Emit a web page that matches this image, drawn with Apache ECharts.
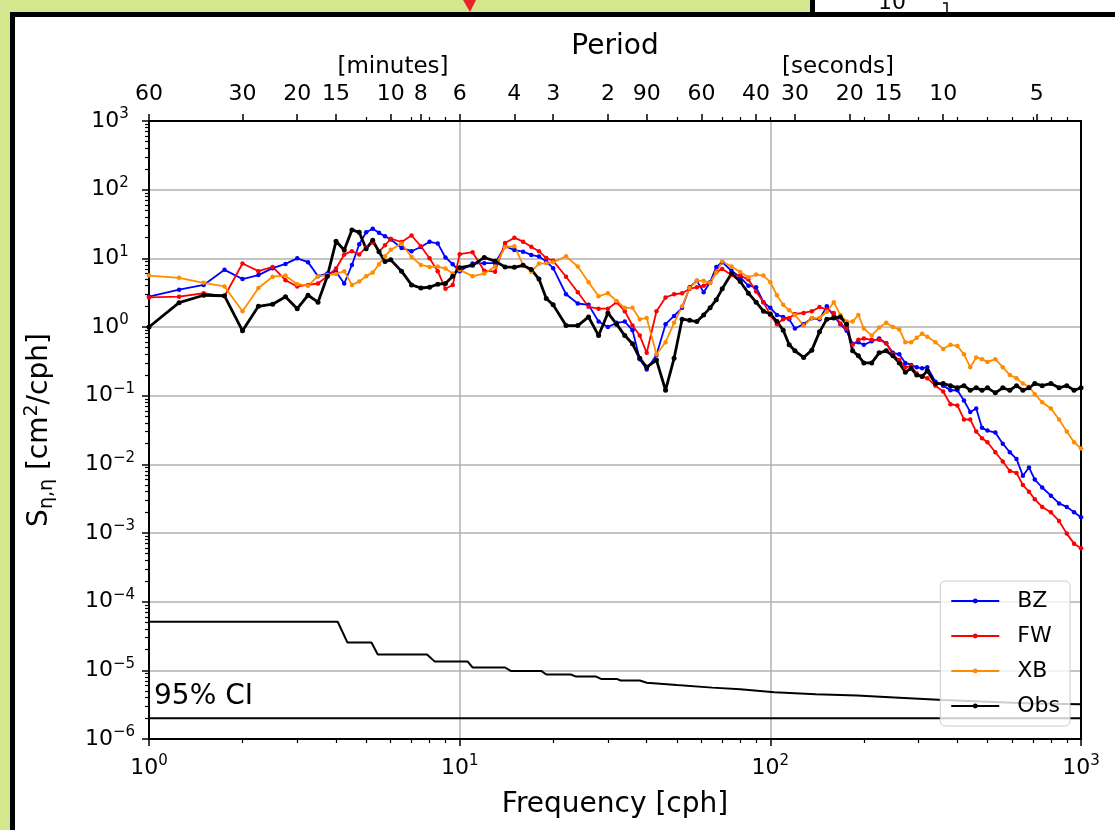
<!DOCTYPE html>
<html><head><meta charset="utf-8">
<script src="https://cdn.jsdelivr.net/npm/echarts@6/dist/echarts.min.js"></script>
<style>html,body{margin:0;padding:0;background:#d4e78f;}#c{width:1115px;height:830px;}</style>
</head><body><div id="c"></div>
<script>
// ---------------- DATA ----------------
const freq = [1,1.25,1.5,1.75,2,2.25,2.5,2.75,3,3.25,3.5,3.75,4,4.25,4.5,4.75,5,5.25,5.5,5.75,6,
  6.5,7,7.5,8,8.5,9,9.5,10,
  11,12,13,14,15,16,17,18,19,20,
  22,24,26,28,30,32,34,36,38,40,
  43,46,49,52,55,58,61,64,67,70,
  75,80,85,90,95,100,105,110,115,120,
  128,136,144,152,160,168,176,184,192,200,
  212,224,236,248,260,272,284,296,308,320,
  340,360,380,400,420,440,460,480,500,
  530,560,590,620,650,680,710,
  750,800,850,900,950,1000];

const bz = [2.76,3.5,4.1,6.8,5.0,5.7,7.2,8.3,10,8.8,5.5,6.0,6.4,4.3,8.0,16,24,27,23.5,21,18.8,
  14.2,12.7,14.6,17.4,16.5,10.3,8.2,6.5,
  8.4,8.5,8.5,15,13.2,12.5,11.2,10.6,9.0,7.2,
  3.0,2.2,2.1,1.2,1.0,1.15,1.2,0.9,0.34,0.24,
  0.39,1.1,1.45,1.9,3.8,4.7,3.2,4.5,7.5,8.8,
  6.6,5.3,4.0,3.8,2.3,1.9,1.5,1.4,1.3,0.95,
  1.1,1.34,1.3,2.0,1.45,1.1,0.88,0.57,0.6,0.55,
  0.62,0.68,0.58,0.42,0.4,0.3,0.28,0.26,0.25,0.26,
  0.16,0.14,0.12,0.12,0.085,0.058,0.065,0.034,0.031,
  0.029,0.02,0.015,0.012,0.0068,0.009,0.006,
  0.0046,0.0035,0.0027,0.0024,0.002,0.0017];

const fw = [2.7,2.76,3.1,2.8,8.4,6.5,7.5,4.8,3.9,4.1,4.3,5.5,7.1,11.4,12.7,11.4,14.5,17,12.5,15.5,19.3,
  17.3,21.5,15,10,6.5,3.6,4.1,11.5,
  12.3,6.6,6.4,16.7,20,17.5,14.7,12.7,10.1,9.2,
  5.4,3.2,1.97,1.85,1.85,2.3,1.7,1.05,0.75,0.42,
  1.7,2.7,3.0,3.1,3.6,3.8,4.0,4.4,6.3,7.0,
  5.7,5.6,4.9,3.3,2.3,1.5,1.1,1.3,1.35,1.55,
  1.6,1.7,1.95,1.8,1.6,1.12,0.95,0.55,0.65,0.68,
  0.65,0.65,0.58,0.4,0.33,0.26,0.27,0.21,0.19,0.18,
  0.14,0.115,0.075,0.072,0.045,0.045,0.03,0.024,0.021,
  0.015,0.011,0.008,0.0075,0.005,0.004,0.0031,
  0.0024,0.002,0.0015,0.00098,0.0007,0.0006];

const xb = [5.6,5.2,4.4,3.9,1.7,3.7,5.4,5.6,4.2,4.0,5.5,5.7,5.9,6.5,4.1,4.6,5.5,6.2,8.2,10.7,13.3,
  16.4,10.5,8.0,7.5,7.6,7.1,6.0,6.8,
  5.5,6.0,7.6,14.6,15,8.0,6.4,8.4,8.5,8.8,
  10.7,7.6,4.5,2.8,3.1,2.4,1.9,1.9,1.3,1.35,
  0.4,0.6,1.15,2.0,3.7,4.7,4.7,4.4,6.2,9.0,
  7.6,6.3,5.3,5.8,5.6,4.5,2.9,2.1,1.75,1.5,
  1.05,1.35,1.35,1.67,2.3,1.5,1.2,1.2,1.5,0.95,
  0.75,0.98,1.15,1.0,0.92,0.6,0.6,0.7,0.8,0.72,
  0.6,0.48,0.55,0.53,0.4,0.26,0.36,0.34,0.31,
  0.34,0.26,0.2,0.18,0.15,0.135,0.105,
  0.08,0.065,0.045,0.03,0.021,0.017];

const obs = [1.0,2.26,2.9,2.85,0.88,2.0,2.15,2.75,1.85,2.9,2.3,5.5,17.7,13.2,25.9,23.9,13.8,18.3,12.5,9.0,9.5,
  6.5,4.1,3.7,3.8,4.2,4.3,5.5,7.3,
  7.9,10.3,9.1,7.5,7.4,7.9,6.9,5.0,2.6,2.1,
  1.05,1.05,1.4,0.75,1.6,1.1,0.75,0.57,0.35,0.26,
  0.33,0.12,0.35,1.3,1.25,1.2,1.5,1.9,2.5,3.6,
  6.0,4.6,3.1,2.3,1.7,1.55,1.2,0.9,0.55,0.45,
  0.36,0.46,0.85,1.3,1.35,1.4,1.1,0.45,0.38,0.3,
  0.3,0.42,0.45,0.38,0.3,0.22,0.25,0.2,0.19,0.23,
  0.15,0.15,0.14,0.13,0.14,0.12,0.13,0.12,0.13,
  0.11,0.13,0.12,0.14,0.12,0.13,0.15,
  0.14,0.15,0.13,0.14,0.12,0.13];

const ciFreq = [1,4.05,4.35,5.2,5.45,7.85,8.3,10.6,11,14,14.6,18.3,19,22.8,23.7,27.5,28.5,32,33,38,40,50,65,80,103,140,190,260,360,500,700,1000];
const ciLevel = [5.1e-5,5.1e-5,2.55e-5,2.55e-5,1.7e-5,1.7e-5,1.35e-5,1.35e-5,1.1e-5,1.1e-5,9.8e-6,9.8e-6,8.7e-6,8.7e-6,8.1e-6,8.1e-6,7.5e-6,7.5e-6,7.1e-6,7.1e-6,6.6e-6,6.1e-6,5.6e-6,5.3e-6,4.8e-6,4.5e-6,4.3e-6,4.0e-6,3.7e-6,3.5e-6,3.3e-6,3.2e-6];
const ciBaseFreq = [1,1000];
const ciBaseLevel = [2e-6,2e-6];

const seriesNames = ['BZ','FW','XB','Obs'];
const seriesColors = ['#0000ff','#ff0000','#ff8c00','#000000'];

const freqMajorTicks = [1,10,100,1000];
const freqMinorTicks = [2,3,4,5,6,7,8,9,20,30,40,50,60,70,80,90,200,300,400,500,600,700,800,900];
const specMajorTicks = [1e-6,1e-5,1e-4,1e-3,1e-2,1e-1,1,10,100,1000];
const specMinorTicks = [];
for (const d of specMajorTicks.slice(0,-1)) for (let k=2;k<=9;k++) specMinorTicks.push(+(d*k).toPrecision(3));

const periodTickFreq  = [1,2,3,4,6,7.5,10,15,20,30,40,60,90,120,180,240,360,720];
const periodTickLabel = ['60','30','20','15','10','8','6','4','3','2','90','60','40','30','20','15','10','5'];
const periodMinorFreq = [5,7,8,9,50,70,80,100,200,300,400,500,600,700,800,900];

// ---------------- CHART ----------------
const FONT = 'DejaVu Sans';
const chart = echarts.init(document.getElementById('c'), null, {renderer:'canvas'});
const pairs = (xs, ys) => xs.map((f,i)=>[f, ys[i]]);
const pow10 = v => { const e = Math.round(Math.log10(v)); return '{b|10}{s|' + (e<0 ? '\u2212'+(-e) : e) + '}'; };
const supRich = {
  b:{fontSize:22, fontFamily:FONT, color:'#000', lineHeight:28},
  s:{fontSize:15, fontFamily:FONT, color:'#000', lineHeight:14, verticalAlign:'top'}
};
const tickLine = {color:'#000', width:1.5};

const mkLine = (name, vals, color, w, sym) => ({
  name, type:'line', data: pairs(freq, vals), xAxisIndex:0, yAxisIndex:0,
  symbol:'circle', symbolSize:sym, showSymbol:true, showAllSymbol:true,
  lineStyle:{color, width:w}, itemStyle:{color}, emphasis:{disabled:true},
  animation:false, z:3
});

const option = {
  backgroundColor:'#d4e78f',
  animation:false,
  textStyle:{fontFamily:FONT},
  grid:{left:149, right:34, top:121, bottom:91, containLabel:false, outerBoundsMode:'none'},
  xAxis:[
    {type:'log', logBase:10, min:1, max:1000, position:'bottom',
     axisLine:{show:true, onZero:false, lineStyle:{color:'#000', width:2}},
     axisTick:{show:true, inside:false, length:7, lineStyle:tickLine, customValues:freqMajorTicks},
     axisLabel:{show:true, customValues:freqMajorTicks, formatter:pow10, rich:supRich, margin:15, showMinLabel:true, showMaxLabel:true},
     splitLine:{show:true, lineStyle:{color:'#b0b0b0', width:1.5}},
     name:'Frequency [cph]', nameLocation:'middle', nameGap:52,
     nameTextStyle:{fontSize:28, fontFamily:FONT, color:'#000'}},
    {type:'log', logBase:10, min:1, max:1000, position:'top',
     axisLine:{show:true, onZero:false, lineStyle:{color:'#000', width:2}},
     axisTick:{show:true, inside:false, length:7, lineStyle:tickLine, customValues:periodTickFreq},
     axisLabel:{show:true, customValues:periodTickFreq, margin:16, fontSize:22, fontFamily:FONT, color:'#000',
       showMinLabel:true, showMaxLabel:true,
       formatter:v=>{ let bi=0, bd=1e9; periodTickFreq.forEach((f,i)=>{const d=Math.abs(Math.log(f/v)); if(d<bd){bd=d;bi=i;}}); return periodTickLabel[bi]; }},
     splitLine:{show:false},
     name:'Period', nameLocation:'middle', nameGap:60,
     nameTextStyle:{fontSize:28, fontFamily:FONT, color:'#000'}},
    {type:'log', logBase:10, min:1, max:1000, position:'top',
     axisLine:{show:false}, axisLabel:{show:false}, splitLine:{show:false},
     axisTick:{show:true, inside:false, length:4, lineStyle:{color:'#000', width:1.2}, customValues:periodMinorFreq}},
    {type:'log', logBase:10, min:1, max:1000, position:'bottom',
     axisLine:{show:false}, axisLabel:{show:false}, splitLine:{show:false},
     axisTick:{show:true, inside:false, length:4, lineStyle:{color:'#000', width:1.2}, customValues:freqMinorTicks}}
  ],
  yAxis:[
    {type:'log', logBase:10, min:1e-6, max:1e3, position:'left',
     axisLine:{show:true, onZero:false, lineStyle:{color:'#000', width:2}},
     axisTick:{show:true, inside:false, length:7, lineStyle:tickLine, customValues:specMajorTicks},
     axisLabel:{show:true, customValues:specMajorTicks, formatter:pow10, rich:supRich, margin:39, align:'center', showMinLabel:true, showMaxLabel:true},
     splitLine:{show:true, lineStyle:{color:'#b0b0b0', width:1.5}},
     name:'{n|S}{sub|\u03b7,\u03b7}{n| [cm}{sup|2}{n|/cph]}', nameLocation:'middle', nameGap:92,
     nameTextStyle:{color:'#000', rich:{
       n:{fontSize:28, fontFamily:FONT, color:'#000', lineHeight:34},
       sub:{fontSize:19, fontFamily:FONT, color:'#000', lineHeight:14, verticalAlign:'bottom'},
       sup:{fontSize:19, fontFamily:FONT, color:'#000', lineHeight:14, verticalAlign:'top'}}}},
    {type:'log', logBase:10, min:1e-6, max:1e3, position:'left',
     axisLine:{show:false}, axisLabel:{show:false}, splitLine:{show:false},
     axisTick:{show:true, inside:false, length:4, lineStyle:{color:'#000', width:1.2}, customValues:specMinorTicks}},
    {type:'log', logBase:10, min:1e-6, max:1e3, position:'right',
     axisLine:{show:true, onZero:false, lineStyle:{color:'#000', width:2}},
     axisTick:{show:false}, axisLabel:{show:false}, splitLine:{show:false}}
  ],
  legend:{
    data:seriesNames, orient:'vertical', right:45, top:581,
    itemWidth:48, itemHeight:6, itemGap:11, padding:[8,10,8,10],
    backgroundColor:'rgba(255,255,255,0.8)', borderColor:'#cccccc', borderWidth:1, borderRadius:5,
    textStyle:{fontFamily:FONT, fontSize:22, color:'#000', padding:[0,0,0,13], lineHeight:24},
    z:10
  },
  series:[
    mkLine(seriesNames[0], bz, seriesColors[0], 1.8, 4.5),
    mkLine(seriesNames[1], fw, seriesColors[1], 1.8, 4.5),
    mkLine(seriesNames[2], xb, seriesColors[2], 1.8, 4.5),
    mkLine(seriesNames[3], obs, seriesColors[3], 2.8, 5),
    {name:'CI', type:'line', data:pairs(ciFreq, ciLevel), xAxisIndex:0, yAxisIndex:0, symbol:'none',
     lineStyle:{color:'#000', width:2}, emphasis:{disabled:true}, z:3},
    {name:'CIbase', type:'line', data:pairs(ciBaseFreq, ciBaseLevel), xAxisIndex:0, yAxisIndex:0, symbol:'none',
     lineStyle:{color:'#000', width:2}, emphasis:{disabled:true}, z:3}
  ],
  graphic:[
    {type:'rect', z:-100, silent:true, shape:{x:15,y:17,width:1100,height:813}, style:{fill:'#ffffff'}},
    {type:'rect', z:-99, silent:true, shape:{x:815,y:0,width:300,height:12}, style:{fill:'#ffffff'}},
    {type:'text', z:-98, silent:true, style:{text:'10', x:878, y:14, font:'22px "DejaVu Sans"', fill:'#000', verticalAlign:'bottom'}},
    {type:'rect', z:-97, silent:true, shape:{x:10,y:12,width:1105,height:5}, style:{fill:'#000'}},
    {type:'rect', z:-97, silent:true, shape:{x:10,y:12,width:5,height:818}, style:{fill:'#000'}},
    {type:'rect', z:-97, silent:true, shape:{x:810,y:0,width:5,height:17}, style:{fill:'#000'}},
    {type:'polyline', z:-97, silent:true, shape:{points:[[943,3],[947,3],[947,12]]}, style:{stroke:'#000', lineWidth:1.5, fill:null}},
    {type:'polygon', z:-97, silent:true, shape:{points:[[463,0],[476,0],[470,12]]}, style:{fill:'#e8242b'}},
    {type:'text', z:20, silent:true, style:{text:'[minutes]', x:393, y:67, align:'center', verticalAlign:'middle', font:'23px "DejaVu Sans"', fill:'#000'}},
    {type:'text', z:20, silent:true, style:{text:'[seconds]', x:838, y:67, align:'center', verticalAlign:'middle', font:'23px "DejaVu Sans"', fill:'#000'}},
    {type:'text', z:20, silent:true, style:{text:'95% CI', x:154, y:697, align:'left', verticalAlign:'middle', font:'28px "DejaVu Sans"', fill:'#000'}}
  ]
};
chart.setOption(option);
</script></body></html>
